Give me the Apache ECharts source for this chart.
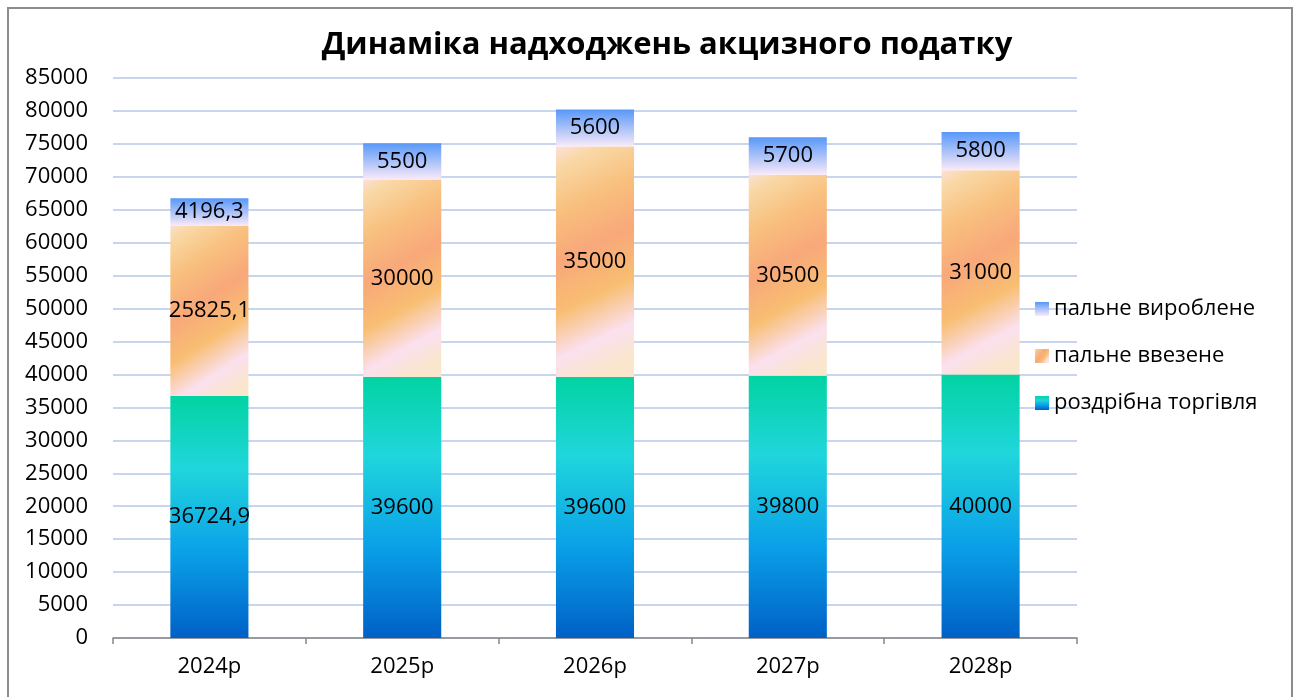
<!DOCTYPE html>
<html><head><meta charset="utf-8">
<script src="https://cdn.jsdelivr.net/npm/echarts@6/dist/echarts.min.js"></script>
<style>html,body{margin:0;padding:0;background:#fff}#c{width:1299px;height:697px}</style>
</head><body><div id="c"></div>
<script>
var categories = ['2024р','2025р','2026р','2027р','2028р'];
var retail = [36724.9, 39600, 39600, 39800, 40000];
var imported = [25825.1, 30000, 35000, 30500, 31000];
var produced = [4196.3, 5500, 5600, 5700, 5800];
var seriesNames = ['роздрібна торгівля','пальне ввезене','пальне вироблене'];

var FONT = 'Open Sans';
function fmt(v){ return String(v).replace('.', ','); }

var chart = echarts.init(document.getElementById('c'));
var labelCfg = {show:true, position:'inside', color:'#000', fontSize:22, fontFamily:FONT, formatter:function(p){return fmt(p.value);}};

var retailGrad = new echarts.graphic.LinearGradient(0,0,0,1,[
  {offset:0,color:'#02D3A2'},{offset:0.3,color:'#20D6DC'},{offset:0.65,color:'#0AA0E8'},{offset:1,color:'#0060C6'}]);
var importedGrad = new echarts.graphic.LinearGradient(-0.2,0,1.2,1,[
  {offset:0,color:'#FCE4EE'},{offset:0.1,color:'#F9D8A6'},{offset:0.26,color:'#F8C07E'},{offset:0.44,color:'#F8A87A'},
  {offset:0.62,color:'#F8BE72'},{offset:0.78,color:'#FBE0EE'},{offset:0.9,color:'#F9E6CC'},{offset:1,color:'#F9E6CC'}]);
var producedGrad = new echarts.graphic.LinearGradient(0,0,0,1,[
  {offset:0,color:'#5898F8'},{offset:1,color:'#FAEAF8'}]);

chart.setOption({
  animation:false,
  title:{text:'Динаміка надходжень акцизного податку', left:662, top:25, textAlign:'center',
    textStyle:{fontFamily:FONT, fontWeight:'bold', fontSize:31, color:'#000'}},
  graphic:[{type:'rect', shape:{x:8,y:8,width:1284,height:700}, style:{fill:'none', stroke:'#8C8C8C', lineWidth:2}, silent:true}],
  legend:{orient:'vertical', left:1030, top:293, itemWidth:14, itemHeight:14, itemGap:25,
    data:[seriesNames[2],seriesNames[1],seriesNames[0]],
    textStyle:{fontFamily:FONT, fontSize:22, color:'#000'}, icon:'rect'},
  grid:{left:113, right:222, top:78, bottom:59},
  xAxis:{type:'category', data:categories, boundaryGap:true,
    axisLine:{lineStyle:{color:'#888', width:1.5}},
    axisTick:{show:true, length:6, lineStyle:{color:'#888', width:1.5}},
    axisLabel:{fontFamily:FONT, fontSize:22, color:'#000', margin:18}},
  yAxis:{type:'value', min:0, max:85000, interval:5000,
    axisLine:{show:false}, axisTick:{show:false},
    axisLabel:{fontFamily:FONT, fontSize:22, color:'#000', margin:25, formatter:function(v){return String(v);}},
    splitLine:{lineStyle:{color:'#B4C8E6', width:1.5}}},
  series:[
    {name:seriesNames[0], type:'bar', stack:'s', data:retail, barWidth:'40.5%', itemStyle:{color:retailGrad}, label:labelCfg},
    {name:seriesNames[1], type:'bar', stack:'s', data:imported, itemStyle:{color:importedGrad}, label:labelCfg},
    {name:seriesNames[2], type:'bar', stack:'s', data:produced, itemStyle:{color:producedGrad}, label:labelCfg}
  ]
});
</script></body></html>
